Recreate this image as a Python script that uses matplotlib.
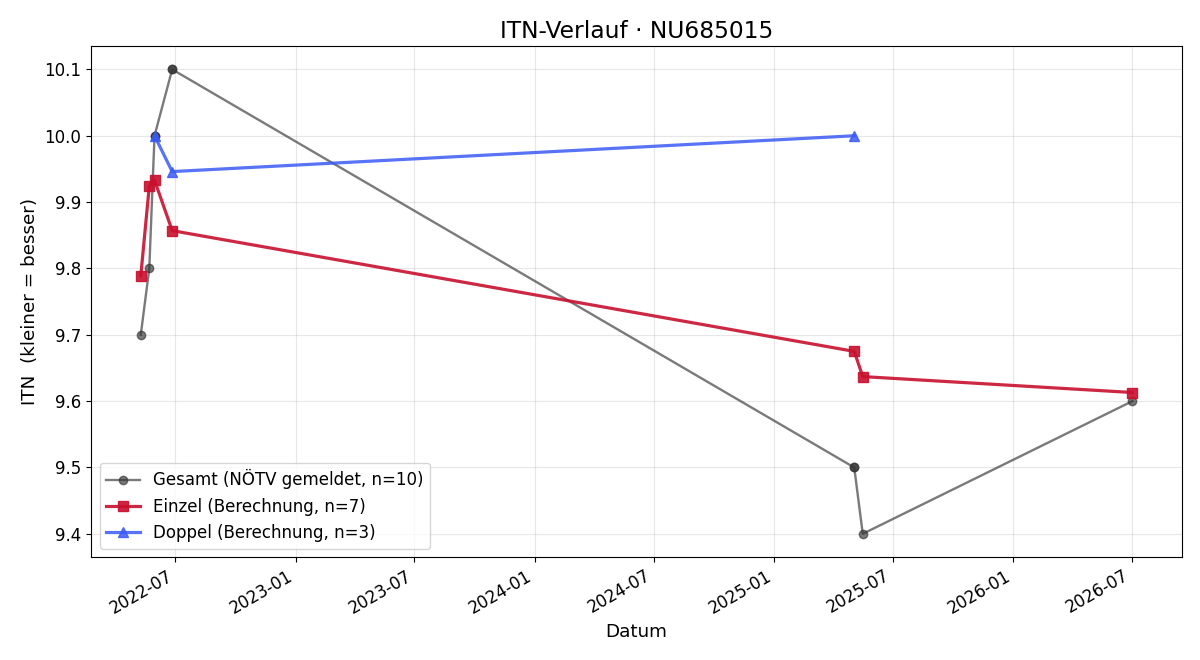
import pandas as pd
import matplotlib
matplotlib.use('Agg')
import matplotlib.pyplot as plt
import matplotlib.dates as mdates

# Gesamt (NÖTV gemeldet)
gesamt_datum = ['2022-05-09', '2022-05-22', '2022-05-30', '2022-05-30', '2022-06-26',
                '2022-06-26', '2025-05-03', '2025-05-03', '2025-05-16', '2026-07-02']
gesamt_itn = [9.7, 9.8, 10.0, 10.0, 10.1, 10.1, 9.5, 9.5, 9.4, 9.6]

# Einzel (Berechnung)
einzel_datum = ['2022-05-09', '2022-05-22', '2022-05-30', '2022-06-26',
                '2025-05-03', '2025-05-16', '2026-07-02']
einzel_itn = [9.789, 9.924, 9.933, 9.857, 9.675, 9.637, 9.613]

# Doppel (Berechnung)
doppel_datum = ['2022-05-30', '2022-06-26', '2025-05-03']
doppel_itn = [10.0, 9.946, 10.0]

fig, ax = plt.subplots(figsize=(12, 6.6), dpi=100)

ax.plot(pd.to_datetime(gesamt_datum), gesamt_itn, marker='o', markersize=6,
        linewidth=1.7, color='#333333', alpha=0.65,
        label=f'Gesamt (NÖTV gemeldet, n={len(gesamt_itn)})')
ax.plot(pd.to_datetime(einzel_datum), einzel_itn, marker='s', markersize=7,
        linewidth=2.3, color='#c8102e', alpha=0.9,
        label=f'Einzel (Berechnung, n={len(einzel_itn)})')
ax.plot(pd.to_datetime(doppel_datum), doppel_itn, marker='^', markersize=7,
        linewidth=2.3, color='#3b5bf5', alpha=0.85,
        label=f'Doppel (Berechnung, n={len(doppel_itn)})')

ax.set_title('ITN-Verlauf · NU685015', fontsize=16.8)
ax.set_xlabel('Datum', fontsize=13.2)
ax.set_ylabel('ITN  (kleiner = besser)', fontsize=13.2)
ax.grid(True, alpha=0.3)
ax.xaxis.set_major_locator(mdates.MonthLocator(bymonth=[1, 7]))
ax.xaxis.set_major_formatter(mdates.DateFormatter('%Y-%m'))
ax.tick_params(labelsize=12)
ax.legend(loc='lower left', fontsize=12)
fig.autofmt_xdate()

fig.subplots_adjust(left=0.076, right=0.985, top=0.93, bottom=0.156)
fig.savefig('out.png')
